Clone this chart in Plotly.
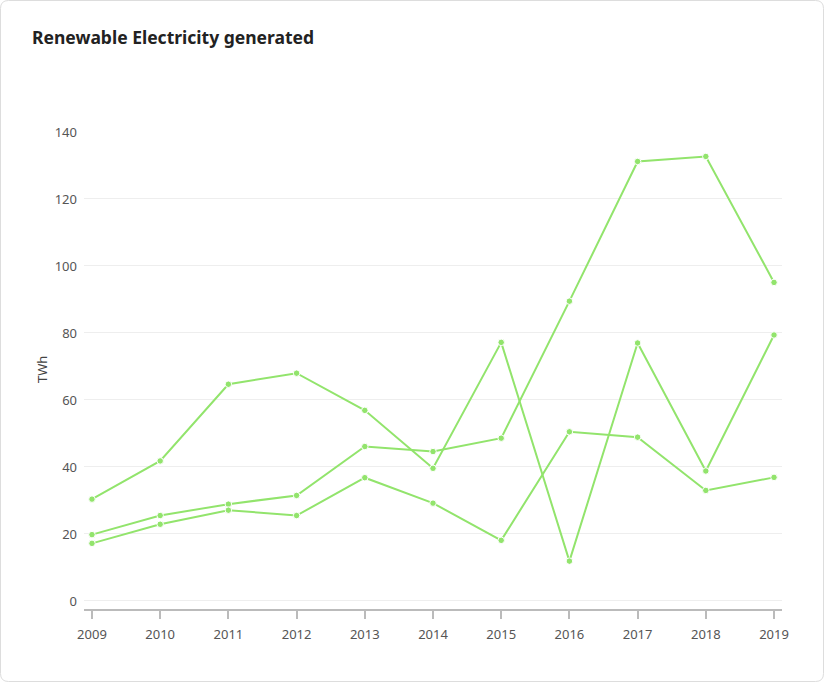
import plotly.graph_objects as go

years = list(range(2009, 2020))

# three series (TWh)
series_a = [30.4, 41.8, 64.7, 68.0, 56.9, 39.6, 77.2, 11.9, 77.0, 38.8, 79.4]
series_b = [19.8, 25.5, 28.9, 31.5, 46.1, 44.6, 48.6, 89.5, 131.2, 132.7, 95.1]
series_c = [17.2, 22.9, 27.1, 25.5, 36.8, 29.2, 18.1, 50.5, 48.9, 33.0, 36.9]

y_ticks = [0, 20, 40, 60, 80, 100, 120, 140]

green = "#92e46c"
font_family = "Noto Sans, Open Sans, sans-serif"

fig = go.Figure()
for vals in (series_a, series_b, series_c):
    fig.add_trace(go.Scatter(
        x=years, y=vals, mode="lines+markers",
        line=dict(color=green, width=2),
        marker=dict(color=green, size=6.5, line=dict(color="white", width=1)),
        showlegend=False,
    ))

# plot area in pixels: x 84..782, y 132..609
W, H = 824, 682
L, R, T, B = 84, 782, 132, 609
pw, ph = R - L, B - T

def px(x):
    return (x - L) / pw

def py(y):
    return (B - y) / ph

# rounded card border
r = 8
x0, x1, y0, y1 = 0.5, W - 0.5, 0.5, H - 0.5
path = (
    f"M {px(x0 + r)} {py(y0)} L {px(x1 - r)} {py(y0)} "
    f"Q {px(x1)} {py(y0)} {px(x1)} {py(y0 + r)} "
    f"L {px(x1)} {py(y1 - r)} Q {px(x1)} {py(y1)} {px(x1 - r)} {py(y1)} "
    f"L {px(x0 + r)} {py(y1)} Q {px(x0)} {py(y1)} {px(x0)} {py(y1 - r)} "
    f"L {px(x0)} {py(y0 + r)} Q {px(x0)} {py(y0)} {px(x0 + r)} {py(y0)} Z"
)

fig.update_layout(
    width=W, height=H,
    margin=dict(l=L, r=W - R, t=T, b=H - B),
    paper_bgcolor="white", plot_bgcolor="white",
    font=dict(family=font_family, size=13, color="#555"),
    title=dict(
        text="Renewable Electricity generated",
        font=dict(family=font_family, size=17.5, color="#222", weight="bold"),
        xref="container", yref="container",
        x=32 / W, xanchor="left", y=1 - 38 / H, yanchor="middle",
    ),
    xaxis=dict(
        range=[2008.883, 2019.117], tickvals=years, showgrid=False,
        showline=True, linecolor="#bbb", linewidth=1.5,
        ticks="outside", ticklen=8, tickcolor="#bbb", tickwidth=1.5,
        ticklabelstandoff=5,
        tickfont=dict(size=13, color="#555"), zeroline=False, fixedrange=True,
    ),
    yaxis=dict(
        range=[-2.4, 140], tickvals=y_ticks, showgrid=True, gridcolor="#eeeeee",
        showline=False, zeroline=False, ticks="", ticklabelstandoff=6,
        tickfont=dict(size=13, color="#555"),
    ),
    shapes=[dict(type="path", path=path, xref="paper", yref="paper",
                 line=dict(color="#dddddd", width=1), fillcolor="rgba(0,0,0,0)",
                 layer="below")],
    annotations=[dict(text="TWh", textangle=-90, xref="paper", yref="paper",
                      x=px(42), y=py(370), xanchor="center", yanchor="middle",
                      showarrow=False, font=dict(size=13, color="#444"))],
)

fig.write_html("out.html", config={"displayModeBar": False},
               post_script="document.body.style.margin='0';")
